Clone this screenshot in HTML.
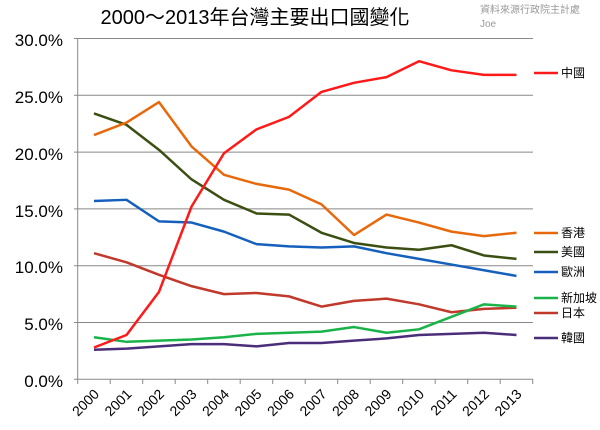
<!DOCTYPE html>
<html><head><meta charset="utf-8"><style>body{margin:0;background:#fff}svg{display:block}text{font-family:"Liberation Sans","Noto Sans CJK TC",sans-serif}</style></head><body>
<svg width="600" height="430" viewBox="0 0 600 430" xmlns="http://www.w3.org/2000/svg">
<rect width="600" height="430" fill="#fff"/>
<text x="255" y="24" font-size="20" text-anchor="middle" fill="#000">2000～2013年台灣主要出口國變化</text>
<text x="480" y="13" font-size="10" fill="#999">資料來源行政院主計處</text>
<text x="480" y="27" font-size="10" fill="#999">Joe</text>
<g stroke="#888" stroke-width="1">
<line x1="74" y1="38.5" x2="533" y2="38.5"/><line x1="74" y1="95.3" x2="533" y2="95.3"/><line x1="74" y1="152.1" x2="533" y2="152.1"/><line x1="74" y1="208.9" x2="533" y2="208.9"/><line x1="74" y1="265.7" x2="533" y2="265.7"/><line x1="74" y1="322.5" x2="533" y2="322.5"/><line x1="74" y1="379.3" x2="533" y2="379.3"/>
<line x1="77.7" y1="38" x2="77.7" y2="379"/>
</g>
<g stroke="#888" id="ticks"></g>
<g font-size="17" text-anchor="end" fill="#000">
<text x="63" y="46">30.0%</text><text x="63" y="103">25.0%</text><text x="63" y="160">20.0%</text><text x="63" y="217">15.0%</text><text x="63" y="273">10.0%</text><text x="63" y="330">5.0%</text><text x="63" y="387">0.0%</text>
</g>
<g id="xl" font-size="14" fill="#000"></g>
<g id="lines" fill="none" stroke-width="2.5" stroke-linejoin="round"></g>
<g font-size="12" fill="#000">
<line x1="534" y1="73" x2="558" y2="73" stroke="#ff1a1a" stroke-width="2.5"/><text x="561" y="77">中國</text>
<line x1="534" y1="233" x2="558" y2="233" stroke="#e8690c" stroke-width="2.5"/><text x="561" y="237">香港</text>
<line x1="534" y1="252" x2="558" y2="252" stroke="#3c4f12" stroke-width="2.5"/><text x="561" y="256">美國</text>
<line x1="534" y1="272" x2="558" y2="272" stroke="#1560bd" stroke-width="2.5"/><text x="561" y="276">歐洲</text>
<line x1="534" y1="298" x2="558" y2="298" stroke="#19b34a" stroke-width="2.5"/><text x="561" y="302">新加坡</text>
<line x1="534" y1="313" x2="558" y2="313" stroke="#c0392b" stroke-width="2.5"/><text x="561" y="317">日本</text>
<line x1="534" y1="338" x2="558" y2="338" stroke="#4b2e7a" stroke-width="2.5"/><text x="561" y="342">韓國</text>
</g>
<script>
var ns="http://www.w3.org/2000/svg";
var D=[["#4b2e7a",[2.6,2.7,2.9,3.1,3.1,2.9,3.2,3.2,3.4,3.6,3.9,4.0,4.1,3.9]],
["#c0392b",[11.1,10.3,9.2,8.2,7.5,7.6,7.3,6.4,6.9,7.1,6.6,5.9,6.2,6.3]],
["#19b34a",[3.7,3.3,3.4,3.5,3.7,4.0,4.1,4.2,4.6,4.1,4.4,5.5,6.6,6.4]],
["#1560bd",[15.7,15.8,13.9,13.8,13.0,11.9,11.7,11.6,11.7,11.1,10.6,10.1,9.6,9.1]],
["#3c4f12",[23.4,22.4,20.2,17.6,15.8,14.6,14.5,12.9,12.0,11.6,11.4,11.8,10.9,10.6]],
["#e8690c",[21.5,22.6,24.4,20.5,18.0,17.2,16.7,15.4,12.7,14.5,13.8,13.0,12.6,12.9]],
["#ff1a1a",[2.8,3.9,7.7,15.2,19.9,22.0,23.1,25.3,26.1,26.6,28.0,27.2,26.8,26.8]]];
var g=document.getElementById("lines");
D.forEach(function(s){var p=document.createElementNS(ns,"polyline");p.setAttribute("stroke",s[0]);
p.setAttribute("points",s[1].map(function(v,i){return (94+32.5*i)+","+(379.3-v*11.36)}).join(" "));g.appendChild(p);});
var t=document.getElementById("ticks"),xl=document.getElementById("xl");
for(var i=0;i<=14;i++){var l=document.createElementNS(ns,"line");var x=77.7+32.5*i;l.setAttribute("x1",x);l.setAttribute("x2",x);l.setAttribute("y1",379);l.setAttribute("y2",384);t.appendChild(l);}
for(var i=0;i<14;i++){var x=100+32.5*i;var e=document.createElementNS(ns,"text");e.setAttribute("x",x);e.setAttribute("y",395);e.setAttribute("text-anchor","end");e.setAttribute("transform","rotate(-45 "+x+" 395)");e.textContent=2000+i;xl.appendChild(e);}
</script>
</svg>
</body></html>
